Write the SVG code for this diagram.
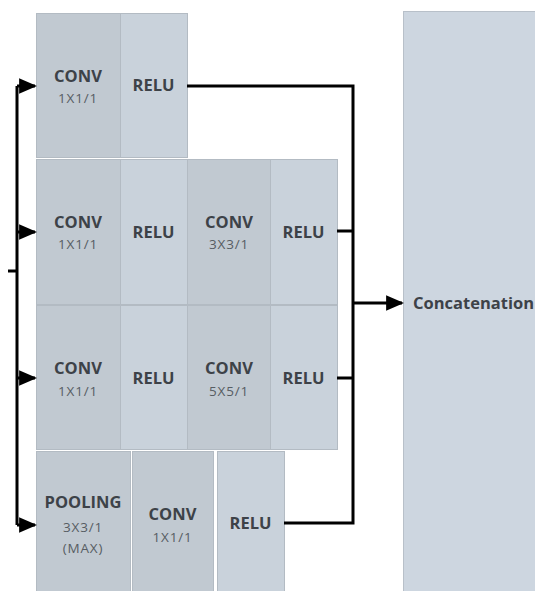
<svg xmlns="http://www.w3.org/2000/svg" width="535" height="591" viewBox="0 0 535 591">
  <defs>
    <style>
      .conv { fill: #c1c9d1; stroke: #b3bbc3; stroke-width: 1; }
      .relu { fill: #c9d2db; stroke: #b3bbc3; stroke-width: 1; }
      .concat { fill: #cdd6e0; stroke: #b8c0c9; stroke-width: 1; }
      .t { font-family: "Open Sans", "Liberation Sans", sans-serif; font-weight: bold; font-size: 16.5px; fill: #3d4248; text-anchor: middle; }
      .s { font-family: "Open Sans", "Liberation Sans", sans-serif; font-size: 13.5px; letter-spacing: 0.8px; fill: #575d63; text-anchor: middle; }
      .line { fill: none; stroke: #000; stroke-width: 3; stroke-linejoin: miter; }
    </style>
    <marker id="arr" markerWidth="6" markerHeight="6" refX="5.3" refY="3" orient="auto" markerUnits="strokeWidth">
      <path d="M0,0.4 L6,3 L0,5.6 Z" fill="#000"/>
    </marker>
  </defs>
  <rect width="535" height="591" fill="#ffffff"/>

  <g id="concatenation">
    <rect class="concat" x="403.5" y="11.5" width="140" height="590"/>
    <text class="t" x="413" y="309" style="text-anchor:start">Concatenation</text>
  </g>

  <g id="row1">
    <g id="r1-conv"><rect class="conv" x="36.5" y="13.5" width="84" height="144"/>
      <text class="t" x="78" y="82">CONV</text><text class="s" x="78" y="103">1X1/1</text></g>
    <g id="r1-relu"><rect class="relu" x="120.5" y="13.5" width="67" height="144"/>
      <text class="t" x="153.5" y="91">RELU</text></g>
  </g>

  <g id="row2">
    <g id="r2-conv1"><rect class="conv" x="36.5" y="159.5" width="84" height="145"/>
      <text class="t" x="78" y="228">CONV</text><text class="s" x="78" y="249">1X1/1</text></g>
    <g id="r2-relu1"><rect class="relu" x="120.5" y="159.5" width="67" height="145"/>
      <text class="t" x="153.5" y="238">RELU</text></g>
    <g id="r2-conv2"><rect class="conv" x="187.5" y="159.5" width="83" height="145"/>
      <text class="t" x="229" y="228">CONV</text><text class="s" x="229" y="249">3X3/1</text></g>
    <g id="r2-relu2"><rect class="relu" x="270.5" y="159.5" width="67" height="145"/>
      <text class="t" x="303.5" y="238">RELU</text></g>
  </g>

  <g id="row3">
    <g id="r3-conv1"><rect class="conv" x="36.5" y="305.5" width="84" height="144"/>
      <text class="t" x="78" y="374">CONV</text><text class="s" x="78" y="396">1X1/1</text></g>
    <g id="r3-relu1"><rect class="relu" x="120.5" y="305.5" width="67" height="144"/>
      <text class="t" x="153.5" y="384">RELU</text></g>
    <g id="r3-conv2"><rect class="conv" x="187.5" y="305.5" width="83" height="144"/>
      <text class="t" x="229" y="374">CONV</text><text class="s" x="229" y="396">5X5/1</text></g>
    <g id="r3-relu2"><rect class="relu" x="270.5" y="305.5" width="67" height="144"/>
      <text class="t" x="303.5" y="384">RELU</text></g>
  </g>

  <g id="row4">
    <g id="r4-pool"><rect class="conv" x="36.5" y="451.5" width="94" height="150"/>
      <text class="t" x="83" y="508">POOLING</text><text class="s" x="83" y="532">3X3/1</text><text class="s" x="83" y="553">(MAX)</text></g>
    <g id="r4-conv"><rect class="conv" x="132.5" y="451.5" width="81" height="150"/>
      <text class="t" x="172.5" y="520">CONV</text><text class="s" x="172.5" y="542">1X1/1</text></g>
    <g id="r4-relu"><rect class="relu" x="217.5" y="451.5" width="67" height="150"/>
      <text class="t" x="250.5" y="529">RELU</text></g>
  </g>

  <g id="connectors">
    <path class="line" d="M8,271 H17"/>
    <path class="line" d="M17,525 V86"/>
    <path class="line" d="M17,86 H35" marker-end="url(#arr)"/>
    <path class="line" d="M17,232 H35" marker-end="url(#arr)"/>
    <path class="line" d="M17,378 H35" marker-end="url(#arr)"/>
    <path class="line" d="M17,525 H35" marker-end="url(#arr)"/>
    <path class="line" d="M187,86 H353 V523 H284"/>
    <path class="line" d="M337,231 H353"/>
    <path class="line" d="M337,378 H353"/>
    <path class="line" d="M353,303 H402" marker-end="url(#arr)"/>
  </g>
</svg>
